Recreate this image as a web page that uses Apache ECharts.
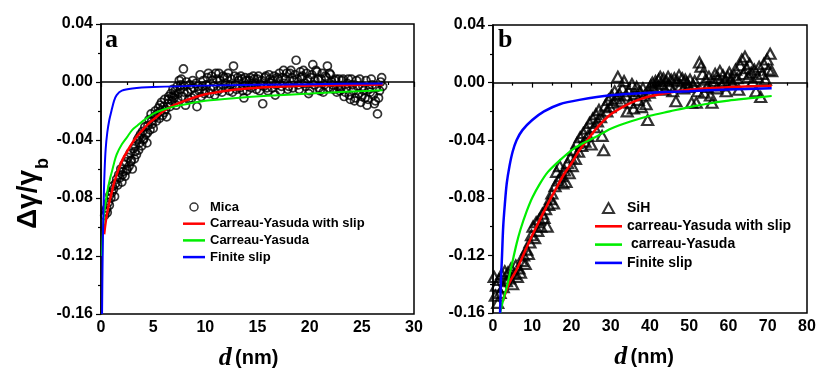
<!DOCTYPE html>
<html>
<head>
<meta charset="utf-8">
<script src="https://cdn.jsdelivr.net/npm/echarts@6/dist/echarts.min.js"></script>
<style>
  html, body { margin: 0; padding: 0; background: #fff; }
  #chart { width: 831px; height: 377px; }
</style>
</head>
<body>
<div id="chart"></div>
<script>
// tick values
const yTicks = [-0.16, -0.12, -0.08, -0.04, 0.00, 0.04];
const xTicksA = [0, 5, 10, 15, 20, 25, 30];
const xTicksB = [0, 10, 20, 30, 40, 50, 60, 70, 80];

// panel a: Mica, points [d (nm), dγ/γb]
const micaData = [
  [0.35,-0.092],[0.45,-0.089],[0.55,-0.087],[0.6,-0.09],[0.7,-0.083],[0.8,-0.085],[0.85,-0.078],[0.95,-0.08],
  [1.05,-0.076],[1.1,-0.072],[1.2,-0.074],[1.3,-0.079],[1.4,-0.07],[1.5,-0.067],[1.6,-0.071],[1.7,-0.064],
  [1.8,-0.066],[1.9,-0.06],[2.0,-0.069],[2.1,-0.062],[2.2,-0.057],[2.3,-0.065],[2.4,-0.055],[2.5,-0.06],
  [2.6,-0.052],[2.7,-0.058],[2.8,-0.049],[2.9,-0.054],[3.0,-0.06],[3.1,-0.046],[3.2,-0.053],[3.3,-0.044],
  [3.4,-0.05],[3.5,-0.04],[3.6,-0.047],[3.7,-0.042],[3.8,-0.036],[3.9,-0.044],[4.0,-0.034],[4.1,-0.039],
  [4.2,-0.031],[4.3,-0.036],[4.4,-0.042],[4.5,-0.03],[4.6,-0.026],[4.7,-0.033],[4.8,-0.022],[4.9,-0.029],
  [5.0,-0.032],[5.1,-0.024],[5.2,-0.02],[5.3,-0.027],[5.4,-0.022],[5.5,-0.018],[5.6,-0.025],[5.7,-0.02],
  [5.8,-0.014],[5.9,-0.023],[6.0,-0.017],[6.1,-0.012],[6.2,-0.019],[6.3,-0.024],[6.4,-0.015],[6.5,-0.01],
  [6.6,-0.017],[6.7,-0.008],[6.8,-0.013],[6.9,-0.005],[7.0,-0.011],[7.1,-0.006],[7.2,-0.016],[7.3,-0.003],
  [7.4,-0.008],[7.5,0.001],[7.6,-0.005],[7.7,0.002],[7.8,-0.01],[7.9,0.009],[8.0,-0.003],[8.1,-0.016],
  [8.3,-0.007],[8.5,-0.002],[8.7,-0.011],[8.9,-0.004],[9.1,-0.001],[9.2,-0.017],[9.4,-0.006],[9.5,0.005],
  [9.7,-0.003],[9.9,-0.008],[10.1,-0.002],[10.3,0.006],[10.5,-0.005],[10.7,0.001],[10.9,-0.009],[11.1,0.002],
  [11.3,0.006],[11.5,-0.004],[11.7,0.004],[11.9,-0.001],[12.1,0.003],[12.3,-0.006],[12.5,0.002],[12.7,0.011],
  [12.9,-0.002],[13.1,0.003],[13.3,-0.004],[13.5,0.002],[13.7,-0.011],[13.9,0.001],[14.1,-0.003],[14.3,0.003],
  [14.5,-0.001],[14.7,0.002],[14.9,-0.005],[15.1,0.004],[15.3,-0.002],[15.5,-0.015],[15.7,0.003],[15.9,-0.004],
  [16.1,0.005],[16.3,-0.001],[16.5,0.001],[16.7,-0.009],[16.9,0.003],[17.1,0.006],[17.3,-0.003],[17.5,0.008],
  [17.7,0.002],[17.9,-0.005],[18.1,0.006],[18.3,0.003],[18.5,0.001],[18.7,0.015],[18.9,-0.002],[19.1,0.007],
  [19.3,0.004],[19.5,-0.001],[19.7,0.006],[19.9,-0.008],[20.1,0.003],[20.3,0.012],[20.5,0.001],[20.7,0.007],
  [20.9,-0.004],[21.1,0.002],[21.3,-0.007],[21.5,0.004],[21.7,0.011],[21.9,0.006],[22.1,0.0],[22.3,-0.005],
  [22.5,0.002],[22.7,-0.003],[22.9,-0.006],[23.1,0.001],[23.3,-0.01],[23.5,-0.004],[23.7,0.002],[23.9,-0.012],
  [24.1,-0.002],[24.3,-0.013],[24.5,0.001],[24.7,-0.008],[24.9,-0.014],[25.1,-0.003],[25.3,-0.011],[25.5,-0.016],
  [25.7,-0.005],[25.9,0.002],[26.1,-0.009],[26.3,-0.013],[26.5,-0.022],[26.7,-0.006],[26.9,0.003],[27.0,-0.003],
  [2.05,-0.064],[2.45,-0.061],[2.85,-0.055],[3.25,-0.048],[3.65,-0.038],[4.05,-0.04],[4.45,-0.035],[4.85,-0.027],
  [5.25,-0.024],[5.65,-0.016],[6.05,-0.021],[6.45,-0.012],[6.85,-0.01],
  [7.05,-0.009],[7.35,-0.012],[7.65,-0.002],[7.95,-0.007],[8.2,0.0],[8.4,-0.012],[8.6,-0.005],[8.8,0.001],
  [9.0,-0.009],[9.3,-0.003],[9.6,-0.01],[9.8,0.001],[10.0,-0.006],[10.2,0.003],[10.4,-0.008],[10.6,0.004],
  [10.8,-0.003],[11.0,0.006],[11.2,-0.006],[11.4,0.001],[11.6,-0.007],[11.8,0.003],[12.0,-0.004],[12.2,0.006],
  [12.4,-0.002],[12.6,-0.007],[12.8,0.004],[13.0,-0.005],[13.2,0.001],[13.4,0.004],[13.6,-0.006],[13.8,0.003],
  [14.0,-0.006],[14.2,0.001],[14.4,-0.004],[14.6,0.004],[14.8,-0.002],[15.0,0.002],[15.2,-0.006],[15.4,0.001],
  [15.6,-0.003],[15.8,0.004],[16.0,-0.006],[16.2,0.002],[16.4,-0.004],[16.6,0.004],[16.8,-0.002],[17.0,0.002],
  [17.2,-0.006],[17.4,0.003],[17.6,-0.001],[17.8,0.006],[18.0,-0.003],[18.2,0.008],[18.4,-0.004],[18.6,0.005],
  [18.8,0.002],[19.0,-0.005],[19.2,0.003],[19.4,0.008],[19.6,-0.003],[19.8,0.002],[20.0,-0.006],[20.2,0.005],
  [20.4,-0.002],[20.6,0.008],[20.8,0.002],[21.0,-0.006],[21.2,0.006],[21.4,-0.002],[21.6,0.003],[21.8,-0.004],
  [22.0,0.005],[22.2,-0.002],[22.4,0.001],[22.6,-0.007],[22.8,0.002],[23.0,-0.004],[23.2,0.002],[23.4,-0.007],
  [23.6,-0.001],[23.8,-0.009],[24.0,0.002],[24.2,-0.006],[24.4,-0.011],[24.6,-0.003],[24.8,0.002],[25.0,-0.01],
  [25.2,-0.006],[25.4,0.001],[25.6,-0.012],[25.8,-0.007],[26.0,-0.002],[26.2,-0.015],[26.4,-0.004],[26.6,-0.011],
  [26.8,0.0]
];
const cySlipA = [
  [0.3,-0.105],[0.5,-0.094],[0.8,-0.083],[1.0,-0.077],[1.2,-0.071],[1.5,-0.064],[1.8,-0.058],[2.1,-0.053],
  [2.5,-0.048],[3,-0.042],[3.5,-0.037],[4,-0.033],[4.5,-0.029],[5,-0.026],[5.5,-0.023],[6,-0.02],
  [7,-0.016],[8,-0.013],[9,-0.0105],[10,-0.0085],[11,-0.0072],[12,-0.006],[14,-0.0045],[16,-0.0035],
  [18,-0.003],[20,-0.0025],[24,-0.002],[27,-0.0018]
];
const cyA = [
  [0.1,-0.12],[0.2,-0.1],[0.3,-0.091],[0.4,-0.085],[0.55,-0.078],[0.7,-0.072],[0.85,-0.067],[1,-0.063],
  [1.25,-0.056],[1.5,-0.05],[2,-0.043],[2.5,-0.038],[3,-0.033],[3.5,-0.03],[4,-0.027],[5,-0.022],
  [6,-0.019],[7,-0.017],[8,-0.0155],[10,-0.013],[13,-0.011],[16,-0.0095],[20,-0.008],[24,-0.0065],
  [27,-0.0057]
];
const slipA = [
  [0.1,-0.16],[0.15,-0.125],[0.2,-0.1],[0.27,-0.078],[0.35,-0.06],[0.45,-0.046],[0.6,-0.035],[0.8,-0.026],
  [1,-0.02],[1.25,-0.013],[1.5,-0.009],[2,-0.006],[3,-0.0045],[5,-0.0035],[10,-0.0025],[20,-0.0015],
  [27,-0.001]
];

// panel b: SiH
const sihData = [
  [0.3,-0.135],[0.6,-0.148],[0.9,-0.141],[1.2,-0.153],[1.5,-0.137],[1.8,-0.146],[2.2,-0.133],[2.6,-0.142],
  [3.0,-0.131],[3.4,-0.138],[3.8,-0.132],[4.2,-0.136],[4.6,-0.129],[5.0,-0.14],[5.4,-0.133],[5.8,-0.127],
  [6.2,-0.135],[6.6,-0.129],[7.0,-0.132],[7.4,-0.124],[7.8,-0.12],[8.2,-0.126],[8.6,-0.116],[9.0,-0.119],
  [9.4,-0.111],[9.8,-0.106],[10.2,-0.1],[10.6,-0.108],[11.0,-0.097],[11.4,-0.103],[11.8,-0.095],[12.2,-0.1],
  [12.6,-0.091],[13.0,-0.094],[13.4,-0.088],[13.8,-0.1],[14.2,-0.085],[14.6,-0.081],[15.0,-0.077],[15.4,-0.084],
  [15.8,-0.072],[16.2,-0.062],[16.6,-0.068],[17.0,-0.058],[17.4,-0.065],[17.8,-0.07],[18.2,-0.061],[18.6,-0.069],
  [19.0,-0.056],[19.4,-0.063],[19.8,-0.052],[20.2,-0.058],[20.6,-0.047],[21.0,-0.053],[21.4,-0.042],[21.8,-0.048],
  [22.2,-0.038],[22.6,-0.044],[23.0,-0.035],[23.4,-0.041],[23.8,-0.032],[24.2,-0.037],[24.6,-0.028],[25.0,-0.043],
  [25.4,-0.025],[25.8,-0.031],[26.2,-0.022],[26.6,-0.027],[27.0,-0.019],[27.4,-0.024],[27.8,-0.037],[28.2,-0.047],
  [28.6,-0.016],[29.0,-0.02],[29.4,-0.012],[29.8,-0.017],[30.2,-0.009],[30.6,-0.014],[31.0,-0.006],[31.4,-0.011],
  [31.8,0.004],[32.2,-0.008],[32.6,-0.013],[33.0,-0.004],[33.4,0.001],[33.8,-0.009],[34.2,-0.02],[34.6,-0.006],
  [35.0,-0.014],[35.4,-0.001],[35.8,-0.018],[36.2,-0.008],[36.6,-0.003],[37.0,-0.012],[37.4,-0.006],[37.8,-0.017],
  [38.2,-0.004],[38.6,-0.009],[39.0,-0.015],[39.4,-0.026],[39.8,-0.007],[40.2,-0.002],[40.6,0.0],[41.0,-0.004],
  [41.4,0.001],[41.8,-0.003],[42.2,0.002],[42.6,0.004],[43.0,-0.001],[43.4,0.003],[43.8,-0.005],[44.2,0.001],
  [44.6,0.004],[45.0,-0.002],[45.4,0.002],[45.8,-0.006],[46.2,0.003],[46.6,-0.013],[47.0,0.001],[47.4,0.005],
  [47.8,-0.002],[48.2,0.003],[48.6,-0.004],[49.0,0.002],[49.4,0.0],[49.8,-0.003],[50.2,0.002],[50.6,-0.014],
  [51.0,-0.002],[51.4,0.001],[51.8,-0.014],[52.2,-0.006],[52.6,0.014],[53.0,0.011],[53.4,0.006],[53.8,-0.007],
  [54.2,0.002],[54.6,-0.003],[55.0,0.004],[55.4,-0.009],[55.8,-0.014],[56.2,0.001],[56.6,0.006],[57.0,-0.004],
  [57.4,0.003],[57.8,0.008],[58.2,-0.002],[58.6,0.005],[59.0,0.001],[59.4,-0.006],[59.8,0.004],[60.2,0.007],
  [60.6,0.002],[61.0,-0.001],[61.4,0.005],[61.8,0.009],[62.2,0.003],[62.6,-0.005],[63.0,0.012],[63.4,0.016],
  [63.8,0.006],[64.2,0.018],[64.6,0.01],[65.0,0.004],[65.4,0.013],[65.8,0.007],[66.2,0.001],[66.6,0.009],
  [67.0,-0.006],[67.4,0.004],[67.8,0.011],[68.2,-0.01],[68.6,0.006],[69.0,0.013],[69.4,0.002],[69.8,0.016],
  [70.2,0.009],[70.6,0.02],[71.0,0.008]
];
const cySlipB = [
  [2.5,-0.152],[4,-0.14],[6,-0.13],[8,-0.118],[10,-0.106],[12,-0.095],[14,-0.084],[16,-0.074],
  [18,-0.064],[20,-0.056],[22,-0.047],[24,-0.04],[26,-0.033],[28,-0.027],[30,-0.022],[33,-0.017],
  [36,-0.013],[40,-0.0095],[45,-0.0068],[50,-0.005],[55,-0.004],[60,-0.0032],[65,-0.0027],[71,-0.0022]
];
const cyB = [
  [1.8,-0.16],[2.5,-0.152],[3.5,-0.142],[4.5,-0.13],[6,-0.112],[7,-0.102],[8.5,-0.09],[10,-0.08],
  [12,-0.07],[14,-0.062],[17,-0.054],[20,-0.047],[23,-0.042],[26,-0.038],[30,-0.032],[35,-0.027],
  [40,-0.023],[45,-0.02],[50,-0.017],[55,-0.0145],[60,-0.0125],[65,-0.011],[71,-0.0093]
];
const slipB = [
  [1.8,-0.16],[2.0,-0.14],[2.3,-0.12],[2.6,-0.1],[3,-0.085],[3.5,-0.07],[4.2,-0.058],[5,-0.048],
  [6,-0.04],[7.5,-0.033],[10,-0.026],[13,-0.02],[17,-0.015],[22,-0.012],[30,-0.0088],[40,-0.007],
  [50,-0.006],[60,-0.0048],[71,-0.004]
];

const sans = '"Liberation Sans", Arial, sans-serif';
const serif = '"Liberation Serif", "Times New Roman", serif';

function fmtY(v) {
  const t = yTicks.find(k => Math.abs(k - v) < 1e-9);
  return (t === undefined ? v : t).toFixed(2).replace('-0.00', '0.00');
}

function xAxisOf(idx, ticks, pad) {
  return {
    type: 'value', gridIndex: idx,
    min: ticks[0], max: ticks[ticks.length - 1], interval: ticks[1] - ticks[0],
    name: '{d|d} {n|(nm)}', nameLocation: 'middle', nameGap: 31,
    nameTextStyle: {
      padding: [0, pad, 0, 0],
      rich: {
        d: {fontFamily: serif, fontStyle: 'italic', fontWeight: 'bold', fontSize: 26, color: '#000'},
        n: {fontFamily: sans, fontWeight: 'bold', fontSize: 20, color: '#000'}
      }
    },
    axisLine: {lineStyle: {color: '#000', width: 1.5}},
    axisTick: {inside: false, length: 5, lineStyle: {color: '#000', width: 1.2}},
    minorTick: {show: true, splitNumber: 2, length: 3, lineStyle: {color: '#000', width: 1.2}},
    axisLabel: {margin: 6, color: '#000', fontFamily: sans, fontWeight: 'bold', fontSize: 16},
    splitLine: {show: false}
  };
}

function yAxisOf(idx) {
  return {
    type: 'value', gridIndex: idx,
    min: yTicks[0], max: yTicks[yTicks.length - 1], interval: 0.04,
    axisLine: {lineStyle: {color: '#000', width: 1.5}},
    axisTick: {inside: false, length: 5, lineStyle: {color: '#000', width: 1.2}},
    minorTick: {show: true, splitNumber: 2, length: 3, lineStyle: {color: '#000', width: 1.2}},
    axisLabel: {margin: 8, color: '#000', fontFamily: sans, fontWeight: 'bold', fontSize: 16, formatter: fmtY},
    splitLine: {show: false}
  };
}

function curve(name, idx, data, color, width) {
  return {
    name: name, type: 'line', xAxisIndex: idx, yAxisIndex: idx,
    data: data, symbol: 'none', smooth: 0.3,
    lineStyle: {color: color, width: width}, itemStyle: {color: color}, z: 3
  };
}

const lineIconA = 'path://M0,0H22V2.5H0Z';
const lineIconB = 'path://M0,0H27V2.6H0Z';

const chart = echarts.init(document.getElementById('chart'));
chart.setOption({
  backgroundColor: '#fff',
  animation: false,
  grid: [
    {left: 101, top: 24, width: 313, height: 290, show: true, borderColor: '#000', borderWidth: 1.5},
    {left: 493, top: 25, width: 314, height: 288, show: true, borderColor: '#000', borderWidth: 1.5}
  ],
  xAxis: [xAxisOf(0, xTicksA, 18), xAxisOf(1, xTicksB, 12)],
  yAxis: [yAxisOf(0), yAxisOf(1)],
  legend: [
    {
      orient: 'vertical', left: 183, top: 199.5, padding: 0,
      itemWidth: 22, itemHeight: 8, itemGap: 1.7,
      textStyle: {fontFamily: sans, fontWeight: 'bold', fontSize: 13, color: '#000', lineHeight: 15},
      itemTextGap: 10,
      data: [
        {name: 'Mica', icon: 'circle', itemStyle: {color: 'transparent', borderColor: '#000', borderWidth: 1.5}},
        {name: 'Carreau-Yasuda with slip', icon: lineIconA},
        {name: 'Carreau-Yasuda', icon: lineIconA},
        {name: 'Finite slip', icon: lineIconA}
      ]
    },
    {
      orient: 'vertical', left: 595, top: 200, padding: 0,
      itemWidth: 27, itemHeight: 10, itemGap: 2.3,
      textStyle: {fontFamily: sans, fontWeight: 'bold', fontSize: 14, color: '#000', lineHeight: 16},
      itemTextGap: 4,
      data: [
        {name: 'SiH', icon: 'path://M5,0L10,9L0,9Z',
          itemStyle: {color: 'transparent', borderColor: '#000', borderWidth: 2}},
        {name: 'carreau-Yasuda with slip', icon: lineIconB},
        {name: ' carreau-Yasuda', icon: lineIconB},
        {name: 'Finite slip ', icon: lineIconB}
      ]
    }
  ],
  graphic: [
    {type: 'text', left: 105, top: 27, style: {text: 'a', font: 'bold 26px ' + serif, fill: '#000'}},
    {type: 'text', left: 498, top: 27, style: {text: 'b', font: 'bold 26px ' + serif, fill: '#000'}},
    {type: 'text', x: 28, y: 199.5, rotation: Math.PI / 2,
      style: {text: 'Δγ/γ', font: 'bold 28px ' + sans, fill: '#000', align: 'center', verticalAlign: 'middle'}},
    {type: 'text', x: 43, y: 163.5, rotation: Math.PI / 2,
      style: {text: 'b', font: 'bold 18px ' + sans, fill: '#000', align: 'center', verticalAlign: 'middle'}}
  ],
  series: [
    {
      name: 'Mica', type: 'scatter', xAxisIndex: 0, yAxisIndex: 0, data: micaData,
      symbol: 'circle', symbolSize: 8,
      itemStyle: {color: 'transparent', borderColor: '#000', borderWidth: 1.7}, z: 2
    },
    curve('Carreau-Yasuda with slip', 0, cySlipA, '#ff0000', 2.5),
    curve('Carreau-Yasuda', 0, cyA, '#00ee00', 2),
    curve('Finite slip', 0, slipA, '#0000ff', 2),
    {
      name: 'SiH', type: 'scatter', xAxisIndex: 1, yAxisIndex: 1, data: sihData,
      symbol: 'triangle', symbolSize: [11, 10],
      itemStyle: {color: 'transparent', borderColor: '#000', borderWidth: 2.2}, z: 2
    },
    curve('carreau-Yasuda with slip', 1, cySlipB, '#ff0000', 2.5),
    curve(' carreau-Yasuda', 1, cyB, '#00ee00', 2.2),
    curve('Finite slip ', 1, slipB, '#0000ff', 2.5)
  ]
});
window.onresize = function () {
  chart.resize();
};
</script>
</body>
</html>
